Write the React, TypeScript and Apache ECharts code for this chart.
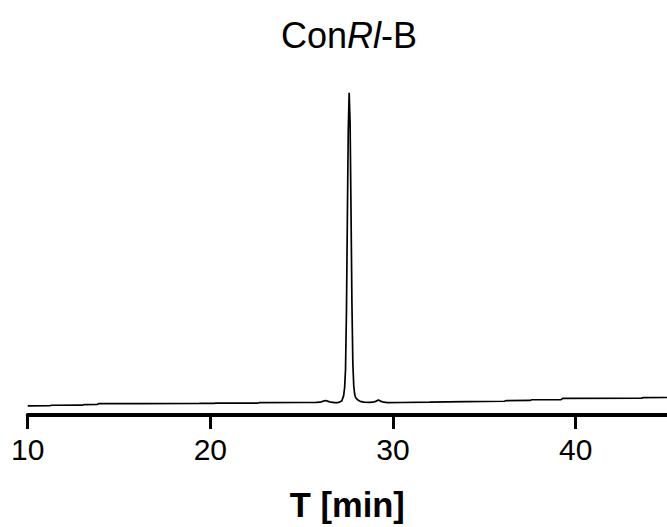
import React, { useEffect, useRef } from "react";
import * as echarts from "echarts";

// Retention time [min]
const times: number[] = [
  10.0, 11.2, 11.3, 13.0, 13.1, 13.8, 13.9, 16.0, 19.4, 20.2, 20.3, 22.6, 22.7,
  25.0, 25.8, 26.0, 26.15, 26.3, 26.45, 26.6, 26.8, 27.0, 27.1, 27.2, 27.3,
  27.35, 27.4, 27.45, 27.5, 27.55, 27.6, 27.65, 27.7, 27.75, 27.8, 27.85, 27.9,
  27.95, 28.0, 28.1, 28.2, 28.4, 28.7, 28.9, 29.05, 29.2, 29.35, 29.5, 29.7,
  30.5, 32.0, 34.0, 36.1, 36.2, 37.5, 37.6, 39.2, 39.3, 43.6, 43.7, 45.0,
];
// Detector signal (arbitrary units)
const signal: number[] = [
  2.75, 2.78, 2.93, 2.95, 3.14, 3.16, 3.44, 3.45, 3.47, 3.5, 3.55, 3.6, 3.74,
  3.76, 3.78, 3.85, 4.1, 4.35, 4.1, 3.85, 3.7, 3.75, 3.95, 4.3, 5.9,
  8.2, 13.7, 30.7, 58.7, 85.7, 96.9, 87.8, 61.8, 33.8, 15.8, 8.8, 6.3,
  5.3, 4.9, 4.4, 4.1, 3.85, 3.8, 3.85, 4.1, 4.5, 4.1, 3.85, 3.74,
  3.76, 3.85, 4.0, 4.13, 4.34, 4.38, 4.58, 4.6, 5.03, 5.08, 5.24, 5.26,
];
const tickValues: number[] = [10, 20, 30, 40];
const titleParts = { pre: "Con", italic: "Rl", post: "-B" };
const axisTitle = "T [min]";

export default function App() {
  const ref = useRef<HTMLDivElement>(null);
  useEffect(() => {
    if (!ref.current) return;
    const chart = echarts.init(ref.current, null, { renderer: "svg" });
    const font = "Liberation Sans, Arial, sans-serif";
    chart.setOption({
      animation: false,
      backgroundColor: "#ffffff",
      graphic: [
        {
          type: "text",
          x: 349,
          y: 17,
          style: {
            text: `${titleParts.pre}{i|${titleParts.italic}}${titleParts.post}`,
            fontFamily: font,
            fontSize: 36,
            fill: "#000",
            align: "center",
            verticalAlign: "top",
            rich: {
              i: { fontStyle: "italic", fontFamily: font, fontSize: 36, fill: "#000" },
            },
          },
        },
      ],
      grid: { left: 27.7, top: 82.5, width: 642.3, height: 334 },
      xAxis: {
        type: "value",
        min: 10,
        max: 45,
        interval: 10,
        name: axisTitle,
        nameLocation: "middle",
        nameGap: 72,
        nameTextStyle: { fontFamily: font, fontSize: 34.5, fontWeight: "bold", color: "#000" },
        axisLine: { show: true, lineStyle: { color: "#000", width: 4 } },
        axisTick: {
          show: true,
          inside: false,
          length: 14,
          lineStyle: { color: "#000", width: 3 },
          customValues: tickValues,
        },
        axisLabel: {
          show: true,
          margin: 19,
          fontFamily: font,
          fontSize: 30,
          color: "#000",
          customValues: tickValues,
        },
        splitLine: { show: false },
      },
      yAxis: {
        type: "value",
        min: 0,
        max: 100,
        show: false,
      },
      series: [
        {
          type: "line",
          data: times.map((t, i) => [t, signal[i]]),
          showSymbol: false,
          symbol: "none",
          lineStyle: { color: "#000", width: 1.7 },
        },
      ],
    });
    return () => chart.dispose();
  }, []);
  return (
    <div
      ref={ref}
      style={{ position: "fixed", left: 0, top: 0, width: 667, height: 527 }}
    />
  );
}
